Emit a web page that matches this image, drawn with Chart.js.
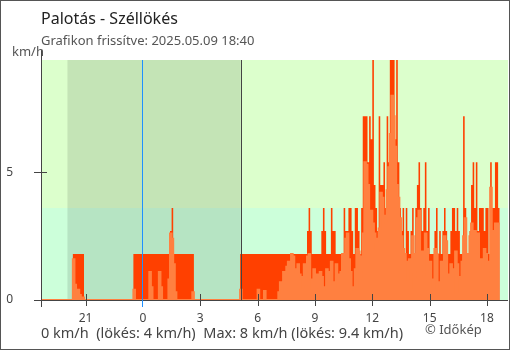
<!DOCTYPE html>
<html><head><meta charset="utf-8">
<script src="https://cdn.jsdelivr.net/npm/chart.js@4.4.0/dist/chart.umd.min.js"></script>
<style>html,body{margin:0;padding:0;background:#fff}#wrap{width:510px;height:350px;position:relative}</style>
</head><body><div id="wrap"><canvas id="c" width="510" height="350"></canvas></div>
<script>
// ---- data (5-minute steps, first value at 18:40 of previous day) ----
const startHour = -16/3;     // 18:40 previous day, hours relative to midnight
const stepHours = 5/60;
const gust = [
 0,0,0,0,0,0,0,0,0,0, 0,0,0,0,0,0,0,0,0,0, 0,
 1.8,1.8,1.8,1.8,1.8,1.8,1.8,
 0,0,0,0,0,0,0,0,0,0, 0,0,0,0,0,0,0,0,0,0, 0,0,0,0,0,0,0,0,0,0, 0,
 1.8,1.8,1.8,1.8,1.8,1.8,1.8,1.8,1.8,1.8, 1.8,1.8,1.8,1.8,1.8,1.8,1.8,1.8,1.8,1.8, 1.8,1.8,1.8,
 2.7,3.6,
 1.8,1.8,1.8,1.8,1.8,1.8,1.8,1.8,1.8,1.8, 1.8,1.8,1.8,
 0,0,0,0,0,0,0,0,0,0, 0,0,0,0,0,0,0,0,0,0, 0,0,0,0,0,0,0,0,0,
 1.8,1.8,1.8,1.8,1.8,1.8,1.8,1.8,1.8,1.8, 1.8,1.8,1.8,1.8,1.8,1.8,1.8,1.8,1.8,1.8,
 1.8,1.8,1.8,1.8,1.8,1.8,1.8,1.8,1.8,1.8, 1.8,1.8,1.8,1.8,1.8,1.8,1.8,1.8,1.8,1.8, 1.8,1.8,
 2.7,3.6,2.7,1.8,1.8,1.8,1.8,1.8,1.8,2.7,
 3.6,2.7,1.8,1.8,1.8,3.6,2.7,2.7,1.8,1.8,
 1.8,1.8,1.8,3.6,2.7,2.7,3.6,3.6,2.7,1.8,
 3.6,3.6,2.7,1.8,3.6,7.2,7.2,7.2,5.4,7.2,
 6.3,9.4,4.5,3.6,2.7,7.2,4.5,4.5,5.4,3.6,
 7.2,5.4,9.4,9.4,9.4,6.3,9.4,5.4,3.6,2.7,
 3.6,1.8,3.6,2.7,1.8,2.7,3.6,1.8,3.6,4.5,
 5.4,3.6,2.7,3.6,5.4,2.7,3.6,1.8,1.8,1.8,
 2.7,3.6,1.8,2.7,1.8,2.7,3.6,2.7,1.8,1.8,
 2.7,3.6,3.6,2.7,3.6,2.7,1.8,1.8,7.2,3.6,
 1.8,1.8,2.7,4.5,5.4,3.6,5.4,2.7,3.6,3.6,
 3.6,2.7,3.6,3.6,1.8,5.4,3.6,3.6,5.4,5.4,
 3.6
];
const wind = [
 0,0,0,0,0,0,0,0,0,0, 0,0,0,0,0,0,0,0,0,0, 0,
 1.6,0.6,0.2,0.4,0.2,0.1,0.1,
 0,0,0,0,0,0,0,0,0,0, 0,0,0,0,0,0,0,0,0,0, 0,0,0,0,0,0,0,0,0,0, 0,
 0.4,
 0,0,0,0,0,0,0,0,0,
 1.1,0.5,
 0,0,0,0,
 1.1,0.5,
 0,0,0,0,
 0.8,2.6,2.4,1.4,0.3,
 0,0,0,0,0,0,0,0,0,0,
 0.3,
 0,0,0,0,0,0,0,0,0,0, 0,0,0,0,0,0,0,0,0,0, 0,0,0,0,0,0,0,0,0,
 0.4,
 0,0,0,0,0,0,0,0,0,0,
 0.4,
 0,0,0,
 0.35,
 0,0,0,0,0,0,0,0,
 0.3,0.7,0.5,1.1,0.4,1.3,1.5,1.4,1.8,1.7,
 1.2,1.0,1.4,1.0,0.9,0.5,1.4,0.6,1.7,1.8,
 0.8,0.4,1.2,0.3,1.0,0.5,1.1,0.9,0.4,0.5,
 1.2,0.9,1.1,1.5,0.6,0.7,1.4,0.5,1.0,1.1,
 1.8,1.7,2.4,2.6,1.6,1.1,0.5,0.4,1.2,2.0,
 1.9,0.5,1.7,2.6,5.4,5.3,4.5,3.4,3.5,3.0,
 2.6,2.0,2.4,2.8,4.2,4.0,3.3,3.0,4.3,5.2,
 6.5,8.0,7.2,6.0,4.5,4.0,3.2,2.5,2.0,1.8,
 1.5,0.8,1.6,1.2,2.5,0.5,1.8,3.2,3.5,1.4,
 1.9,1.0,2.6,2.0,1.3,1.5,0.8,0.5,2.0,1.8,
 0.7,0.5,1.5,1.1,2.5,2.3,1.0,0.5,1.4,0.3,
 1.2,1.9,1.4,0.9,0.3,1.5,2.5,3.2,1.8,1.6,
 2.5,3.0,2.6,2.7,2.4,2.6,1.5,1.6,1.3,2.0,
 1.8,0.8,1.5,4.4,2.7,2.5,3.0,3.0,3.0
];
const xTicks = [-3,0,3,6,9,12,15,18];
const xTickLabels = ['21','0','3','6','9','12','15','18'];
const yTicks = [0,5];
const sunsetHour = -3.95;   // 20:03
const sunriseHour = 5.117;  // 05:07
const midnightHour = 0;
const calmLimit = 3.6;      // km/h band boundary
const yMax = 9.4;
const xMax = 19.1;

const titleText = 'Palotás - Széllökés';
const subtitleText = 'Grafikon frissítve: 2025.05.09 18:40';
const unitText = 'km/h';
const footerText = '0 km/h  (lökés: 4 km/h)  Max: 8 km/h (lökés: 9.4 km/h)';
const creditText = '© Időkép';

const FONT = '"Noto Sans", "Open Sans", sans-serif';

const toPoints = arr => arr.map((v,i)=>({x: startHour + i*stepHours, y: v}));

const bgPlugin = {
  id: 'bg',
  beforeDatasetsDraw(chart) {
    const {ctx, chartArea: a, scales: {x, y}} = chart;
    ctx.save();
    const yb = Math.round(y.getPixelForValue(calmLimit));
    ctx.fillStyle = '#dcffcc';
    ctx.fillRect(a.left, a.top, a.right - a.left, yb - a.top);
    ctx.fillStyle = '#ccffda';
    ctx.fillRect(a.left, yb, a.right - a.left, a.bottom - yb);
    const x1 = x.getPixelForValue(sunsetHour), x2 = x.getPixelForValue(sunriseHour);
    ctx.fillStyle = 'rgba(0,0,0,0.105)';
    ctx.fillRect(x1, a.top, x2 - x1, a.bottom - a.top);
    ctx.restore();
  },
  afterDatasetsDraw(chart) {
    const {ctx, chartArea: a, scales: {x, y}} = chart;
    ctx.save();
    ctx.lineWidth = 1;
    // axes
    ctx.strokeStyle = '#444';
    const ax = Math.round(a.left) + 0.5;
    ctx.beginPath(); ctx.moveTo(ax, a.top - 10); ctx.lineTo(ax, a.bottom + 7); ctx.stroke();
    const ay = Math.round(a.bottom) + 0.5;
    ctx.beginPath(); ctx.moveTo(a.left - 7, ay); ctx.lineTo(a.right, ay); ctx.stroke();
    // y tick marks
    yTicks.forEach(v => {
      const py = Math.round(y.getPixelForValue(v)) + 0.5;
      ctx.beginPath(); ctx.moveTo(a.left - 7, py); ctx.lineTo(a.left + 6, py); ctx.stroke();
    });
    // x tick marks
    xTicks.forEach(v => {
      if (v === midnightHour) return;
      const px = Math.round(x.getPixelForValue(v)) + 0.5;
      ctx.beginPath(); ctx.moveTo(px, a.bottom - 6); ctx.lineTo(px, a.bottom + 6); ctx.stroke();
    });
    // sunrise line
    const xs = Math.round(x.getPixelForValue(sunriseHour));
    ctx.fillStyle = '#444';
    ctx.fillRect(xs, a.top, 1, a.bottom - a.top);
    // midnight line (blue)
    const xm = Math.round(x.getPixelForValue(midnightHour)) - 1;
    ctx.fillStyle = 'rgb(30,144,255)';
    ctx.fillRect(xm, a.top, 1, a.bottom - a.top + 7);
    ctx.restore();
  },
  afterDraw(chart) {
    const {ctx} = chart;
    ctx.save();
    ctx.textBaseline = 'alphabetic';
    ctx.textAlign = 'left';
    ctx.fillStyle = '#222';
    ctx.font = '16px ' + FONT;
    ctx.fillText(titleText, 41, 24);
    ctx.fillStyle = '#555';
    ctx.font = '13px ' + FONT;
    ctx.fillText(subtitleText, 41, 45);
    ctx.fillText(unitText, 12, 56);
    ctx.fillStyle = '#444';
    ctx.font = '14.5px ' + FONT;
    ctx.fillText(footerText, 41, 338);
    ctx.fillStyle = '#555';
    ctx.font = '13px ' + FONT;
    ctx.fillText(creditText, 425, 334);
    // frame
    ctx.strokeStyle = '#555';
    ctx.lineWidth = 1;
    ctx.strokeRect(0.5, 0.5, 509, 349);
    ctx.restore();
  }
};

new Chart(document.getElementById('c'), {
  type: 'line',
  data: {
    datasets: [
      { label: 'Szél', data: toPoints(wind), stepped: 'after', fill: 'origin',
        backgroundColor: '#ff8040', borderColor: '#ff8040', borderWidth: 2,
        pointRadius: 0, order: 0 },
      { label: 'Széllökés', data: toPoints(gust), stepped: 'after', fill: 'origin',
        backgroundColor: '#ff4000', borderColor: '#ff4000', borderWidth: 0,
        pointRadius: 0, order: 1 }
    ]
  },
  options: {
    responsive: false, animation: false, devicePixelRatio: 1,
    layout: { padding: { top: 60, right: 2, left: 0, bottom: 0 } },
    plugins: { legend: { display: false }, tooltip: { enabled: false }, title: { display: false } },
    scales: {
      x: {
        type: 'linear', min: startHour, max: xMax,
        grid: { display: false, drawTicks: false }, border: { display: false },
        afterBuildTicks: s => { s.ticks = xTicks.map(v => ({value: v})); },
        afterFit: s => { s.height = 50; },
        ticks: { autoSkip: false, maxRotation: 0, padding: 11, color: '#444',
          font: { family: FONT, size: 12 },
          callback: v => { const k = xTicks.indexOf(v); return k >= 0 ? xTickLabels[k] : ''; } }
      },
      y: {
        min: 0, max: yMax,
        grid: { display: false, drawTicks: false }, border: { display: false },
        afterBuildTicks: s => { s.ticks = yTicks.map(v => ({value: v})); },
        afterFit: s => { s.width = 41; },
        ticks: { padding: 28, color: '#444', font: { family: FONT, size: 12 } }
      }
    }
  },
  plugins: [bgPlugin]
});
</script>
</body></html>
